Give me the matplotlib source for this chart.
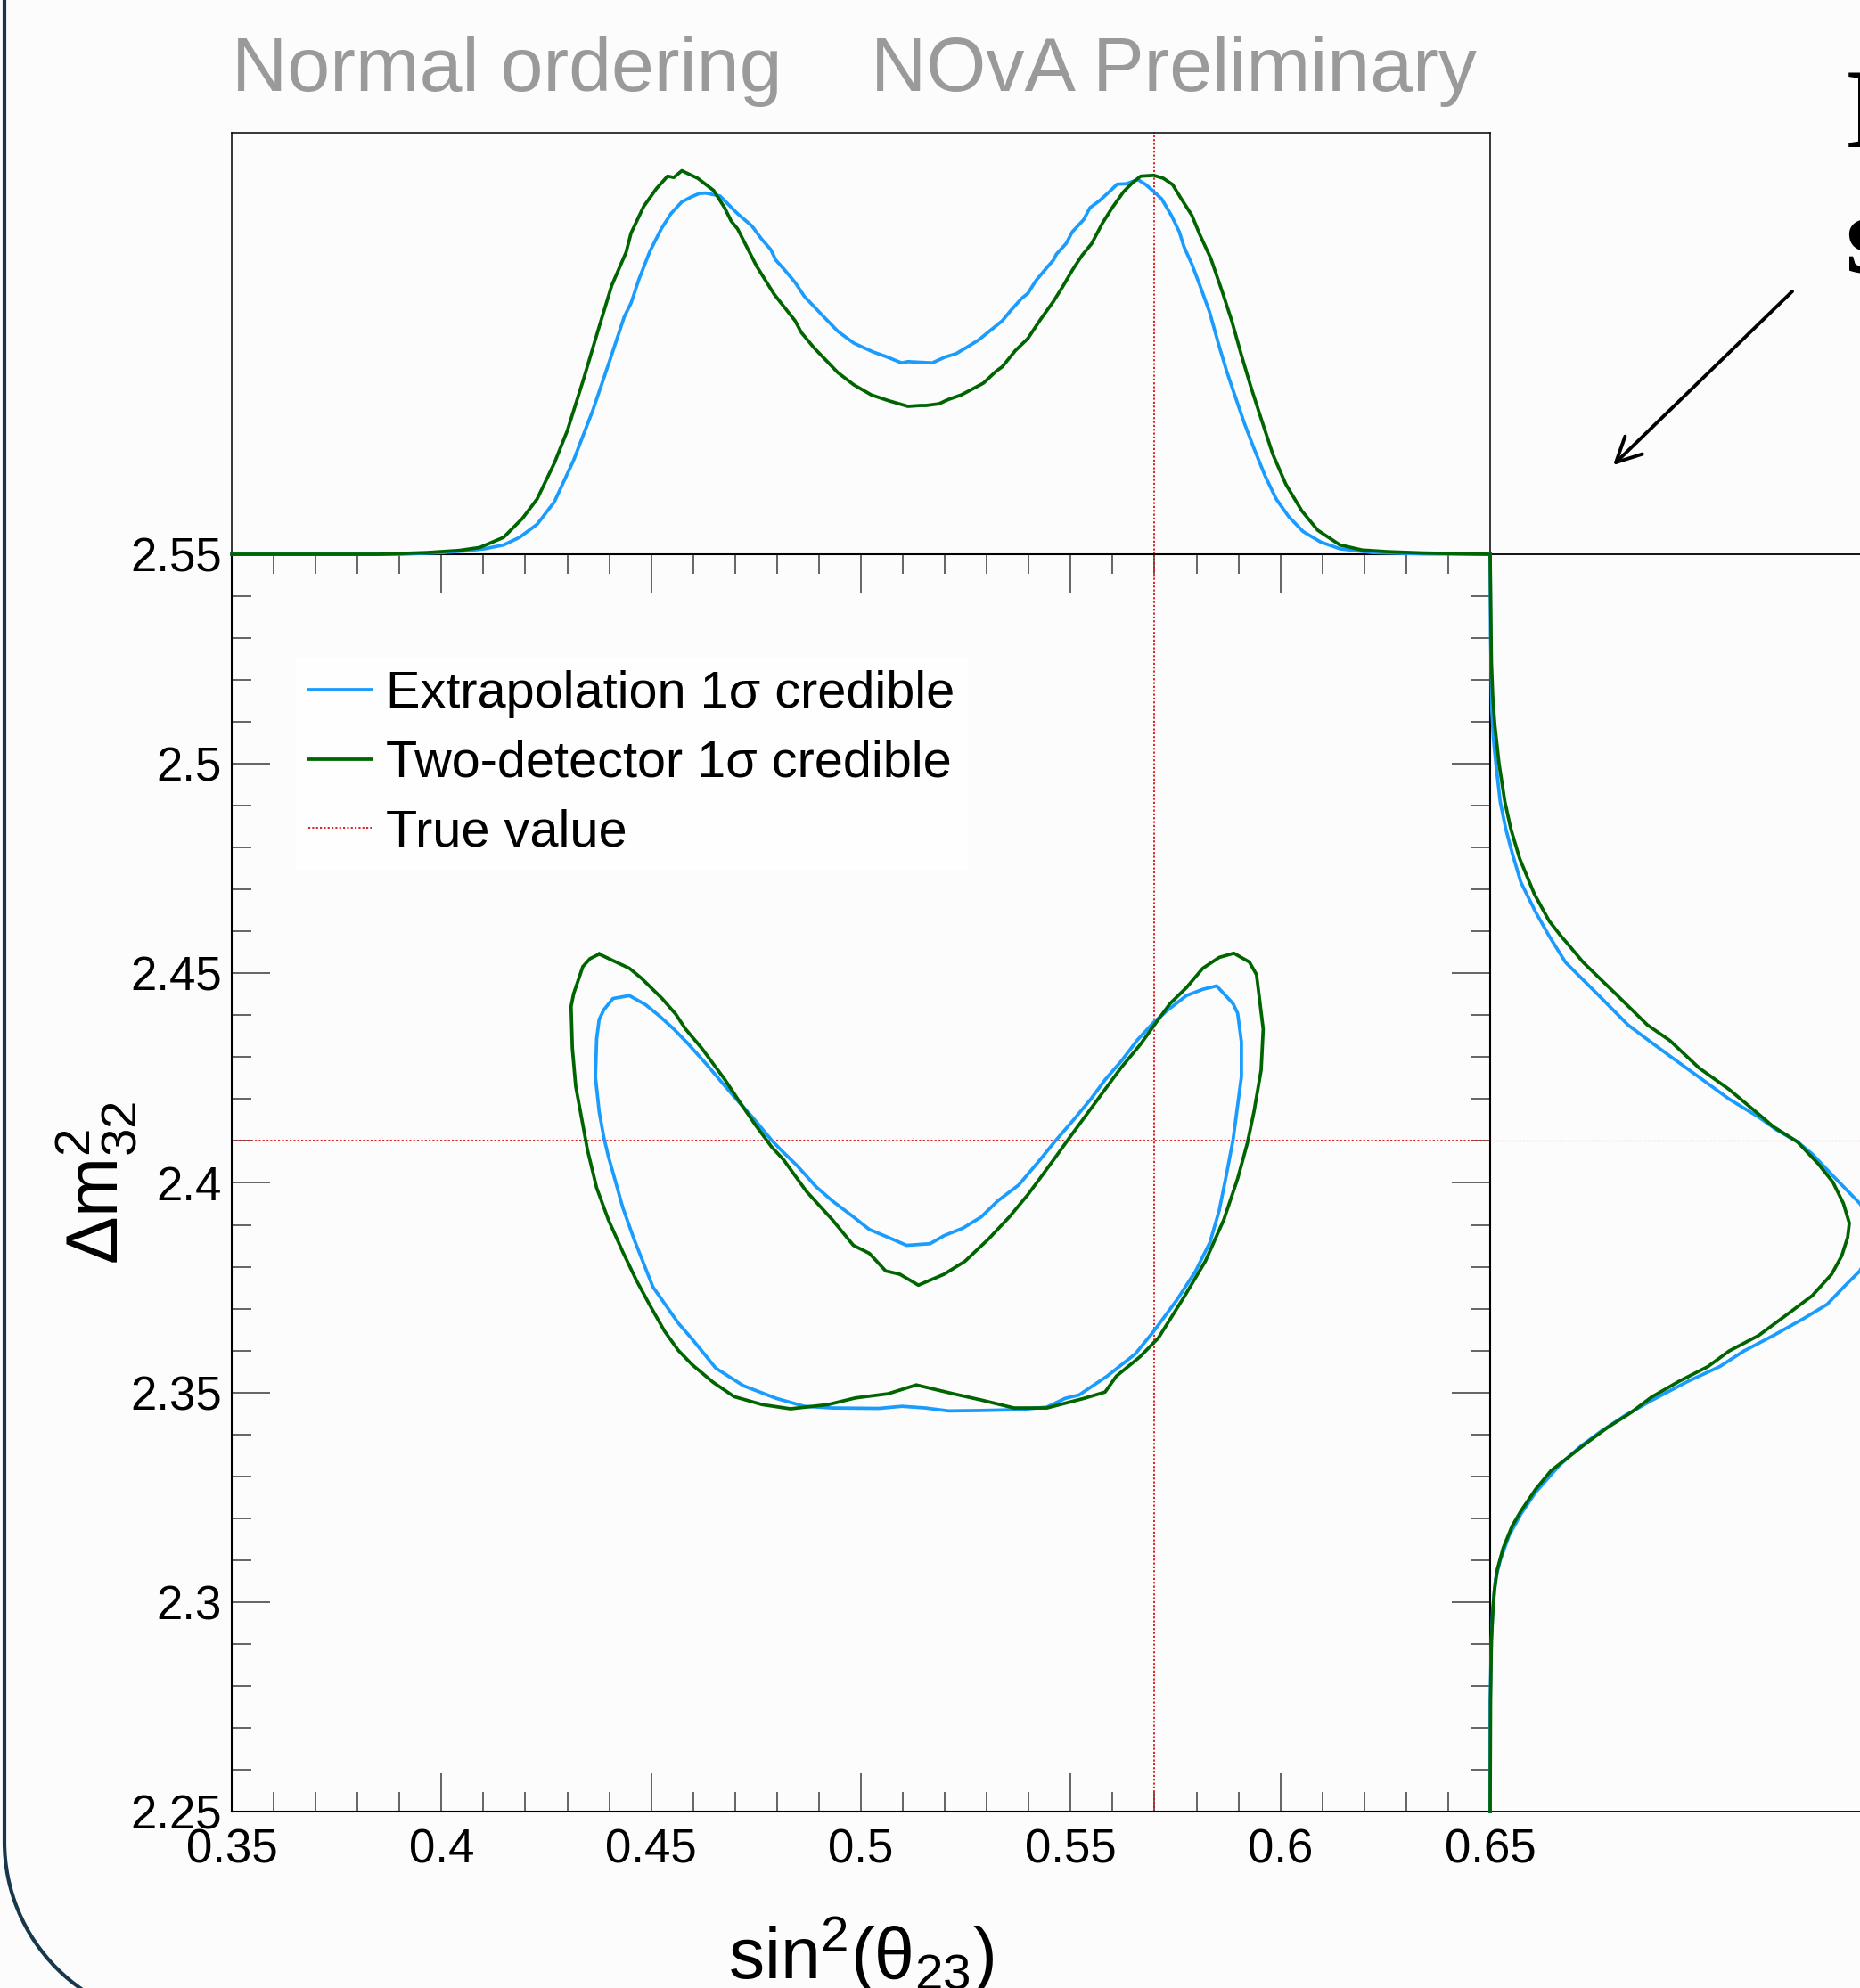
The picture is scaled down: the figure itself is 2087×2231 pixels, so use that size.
import matplotlib
matplotlib.use("Agg")
import matplotlib.pyplot as plt
from matplotlib.patches import Arc
from matplotlib.ticker import MultipleLocator, FuncFormatter

plt.rcParams["font.family"] = ["Liberation Sans", "DejaVu Sans"]
plt.rcParams["mathtext.fontset"] = "custom"
plt.rcParams["mathtext.rm"] = "Liberation Sans"
plt.rcParams["mathtext.it"] = "Liberation Sans:italic"
plt.rcParams["mathtext.default"] = "regular"

W, H = 2087, 2231
BG = "#fcfcfc"
BLUE = "#1a9cff"
GREEN = "#006400"
RED = "#dd1111"

TRUE_SIN2 = 0.57
TRUE_DM2 = 2.41

# 1D marginal of sin^2(theta23), relative units (panel height = 1)
TOP_SIN2_EXTRAP = [0.35, 0.39, 0.4004, 0.4057, 0.4103, 0.4148, 0.4186, 0.4228, 0.4269,
                   0.4315, 0.4361, 0.4402, 0.4436, 0.4452, 0.4471, 0.4497, 0.4524, 0.4547,
                   0.4573, 0.4596, 0.4615, 0.4630, 0.4664, 0.4706, 0.4740, 0.4763, 0.4785,
                   0.4797, 0.4816, 0.4843, 0.4865, 0.4907, 0.4945, 0.4983, 0.5029, 0.5060,
                   0.5097, 0.5112, 0.5150, 0.5170, 0.5201, 0.5227, 0.5254, 0.5280, 0.5311,
                   0.5337, 0.5356, 0.5383, 0.5398, 0.5417, 0.5444, 0.5459, 0.5466, 0.5489,
                   0.5504, 0.5531, 0.5546, 0.5569, 0.5592, 0.5611, 0.5633, 0.5660, 0.5679,
                   0.5702, 0.5717, 0.5740, 0.5759, 0.5770, 0.5789, 0.5808, 0.5831, 0.5853,
                   0.5872, 0.5891, 0.5914, 0.5937, 0.5963, 0.5990, 0.6020, 0.6054, 0.6096,
                   0.6142, 0.6218, 0.6339, 0.65]
TOP_PROB_EXTRAP = [0.0, 0.0, 0.004, 0.008, 0.013, 0.022, 0.040, 0.071, 0.124,
                   0.223, 0.342, 0.462, 0.564, 0.596, 0.653, 0.719, 0.772, 0.808,
                   0.836, 0.848, 0.856, 0.857, 0.850, 0.808, 0.779, 0.748, 0.723,
                   0.698, 0.677, 0.645, 0.612, 0.568, 0.529, 0.501, 0.480, 0.469,
                   0.454, 0.457, 0.455, 0.454, 0.468, 0.476, 0.492, 0.508, 0.533,
                   0.554, 0.577, 0.607, 0.619, 0.649, 0.681, 0.698, 0.712, 0.737,
                   0.765, 0.794, 0.822, 0.839, 0.860, 0.878, 0.879, 0.889, 0.877,
                   0.857, 0.843, 0.804, 0.765, 0.730, 0.688, 0.638, 0.575, 0.497,
                   0.434, 0.378, 0.311, 0.251, 0.187, 0.131, 0.089, 0.054, 0.029,
                   0.013, 0.004, 0.001, 0.0]

TOP_SIN2_TWODET = [0.35, 0.385, 0.3966, 0.4042, 0.4091, 0.4148, 0.4193, 0.4228, 0.4269,
                   0.4300, 0.4338, 0.4376, 0.4406, 0.4440, 0.4452, 0.4482, 0.4512, 0.4539,
                   0.4554, 0.4573, 0.4611, 0.4649, 0.4675, 0.4691, 0.4706, 0.4751, 0.4793,
                   0.4843, 0.4858, 0.4888, 0.4945, 0.4983, 0.5025, 0.5067, 0.5112, 0.5142,
                   0.5155, 0.5186, 0.5208, 0.5239, 0.5262, 0.5292, 0.5322, 0.5337, 0.5368,
                   0.5398, 0.5428, 0.5459, 0.5481, 0.5504, 0.5527, 0.5550, 0.5576, 0.5599,
                   0.5626, 0.5648, 0.5667, 0.5698, 0.5721, 0.5743, 0.5762, 0.5789, 0.5808,
                   0.5834, 0.5861, 0.5884, 0.5906, 0.5929, 0.5952, 0.5982, 0.6013, 0.6051,
                   0.6089, 0.6142, 0.6195, 0.6256, 0.6339, 0.65]
TOP_PROB_TWODET = [0.0, 0.0, 0.004, 0.009, 0.016, 0.040, 0.085, 0.131, 0.216,
                   0.293, 0.413, 0.540, 0.638, 0.716, 0.762, 0.825, 0.867, 0.897,
                   0.894, 0.910, 0.892, 0.863, 0.822, 0.790, 0.772, 0.684, 0.617,
                   0.554, 0.526, 0.490, 0.431, 0.402, 0.378, 0.364, 0.351, 0.353,
                   0.353, 0.357, 0.367, 0.378, 0.390, 0.406, 0.434, 0.445, 0.483,
                   0.512, 0.557, 0.600, 0.635, 0.674, 0.709, 0.737, 0.786, 0.822,
                   0.860, 0.882, 0.897, 0.899, 0.892, 0.877, 0.846, 0.804, 0.758,
                   0.702, 0.624, 0.554, 0.476, 0.399, 0.328, 0.237, 0.166, 0.103,
                   0.057, 0.022, 0.010, 0.006, 0.003, 0.0]

# 1D marginal of dm2_32, relative units (panel width = 1)
RIGHT_DM2_EXTRAP = [2.55, 2.5306, 2.5128, 2.5057, 2.4987, 2.4909, 2.4845, 2.4788, 2.4717,
                    2.4646, 2.4589, 2.4526, 2.4452, 2.4377, 2.4340, 2.4303, 2.4252, 2.4200,
                    2.4157, 2.4127, 2.4098, 2.4069, 2.4017, 2.3981, 2.3951, 2.388, 2.3790,
                    2.3754, 2.3710, 2.3676, 2.3636, 2.3599, 2.3562, 2.3526, 2.3481, 2.3445,
                    2.3408, 2.3371, 2.3327, 2.3262, 2.3210, 2.3159, 2.3100, 2.3056, 2.2983,
                    2.2909, 2.2763, 2.25]
RIGHT_PROB_EXTRAP = [0.0, 0.001, 0.004, 0.008, 0.015, 0.024, 0.037, 0.052, 0.073,
                     0.108, 0.140, 0.179, 0.253, 0.327, 0.376, 0.426, 0.496, 0.567,
                     0.637, 0.679, 0.729, 0.764, 0.813, 0.848, 0.877, 0.925, 0.877,
                     0.841, 0.799, 0.743, 0.672, 0.602, 0.545, 0.468, 0.383, 0.320,
                     0.264, 0.214, 0.165, 0.108, 0.073, 0.045, 0.024, 0.013, 0.006,
                     0.003, 0.0, 0.0]

RIGHT_DM2_TWODET = [2.55, 2.5242, 2.5164, 2.5093, 2.5001, 2.4909, 2.4845, 2.4774, 2.4689,
                    2.4625, 2.4589, 2.4568, 2.4526, 2.4452, 2.4377, 2.4340, 2.4274, 2.4223,
                    2.4164, 2.4134, 2.4098, 2.4046, 2.4002, 2.3951, 2.3904, 2.3870, 2.3826,
                    2.3782, 2.3731, 2.3694, 2.3636, 2.3599, 2.3562, 2.3526, 2.3489, 2.3452,
                    2.3416, 2.3379, 2.3335, 2.3313, 2.3269, 2.3217, 2.3181, 2.3129, 2.3078,
                    2.3027, 2.2968, 2.2909, 2.2763, 2.25]
RIGHT_PROB_TWODET = [0.0, 0.003, 0.006, 0.011, 0.021, 0.035, 0.049, 0.070, 0.105,
                     0.140, 0.168, 0.186, 0.221, 0.297, 0.373, 0.426, 0.496, 0.567,
                     0.637, 0.672, 0.729, 0.778, 0.813, 0.838, 0.852, 0.848, 0.834,
                     0.810, 0.764, 0.715, 0.637, 0.567, 0.517, 0.447, 0.383, 0.334,
                     0.278, 0.228, 0.172, 0.144, 0.108, 0.073, 0.052, 0.031, 0.017,
                     0.010, 0.006, 0.003, 0.001, 0.0]

# 1 sigma credible contours
CONT_SIN2_EXTRAP = [0.4448, 0.4409, 0.4387, 0.4376, 0.4370, 0.4367, 0.4376, 0.4387, 0.4398,
                    0.4415, 0.4432, 0.4459, 0.4504, 0.4565, 0.4598, 0.4654, 0.4720, 0.4798,
                    0.4865, 0.4932, 0.5043, 0.5098, 0.5154, 0.5209, 0.5287, 0.5376, 0.5443,
                    0.5487, 0.5520, 0.5587, 0.5654, 0.5698, 0.5754, 0.5798, 0.5832, 0.5854,
                    0.5871, 0.5887, 0.5898, 0.5907, 0.5907, 0.5898, 0.5887, 0.5848, 0.5815,
                    0.5776, 0.5732, 0.5698, 0.5659, 0.5621, 0.5582, 0.5548, 0.5504, 0.5465,
                    0.5421, 0.5376, 0.5326, 0.5287, 0.5243, 0.5198, 0.5165, 0.5109, 0.5065,
                    0.5020, 0.4982, 0.4932, 0.4893, 0.4848, 0.4809, 0.4787, 0.4743, 0.4709,
                    0.4670, 0.4631, 0.4587, 0.4554, 0.4520, 0.4487, 0.4448]
CONT_DM2_EXTRAP = [2.4447, 2.4440, 2.4413, 2.4390, 2.4345, 2.4253, 2.4170, 2.4109, 2.4063,
                   2.4003, 2.3942, 2.3866, 2.3752, 2.3665, 2.3627, 2.3558, 2.3516, 2.3486,
                   2.3467, 2.3463, 2.3462, 2.3467, 2.3463, 2.3456, 2.3457, 2.3459, 2.3465,
                   2.3486, 2.3494, 2.3539, 2.3592, 2.3646, 2.3722, 2.3790, 2.3858, 2.3934,
                   2.4018, 2.4102, 2.4185, 2.4253, 2.4337, 2.4405, 2.4428, 2.4470, 2.4462,
                   2.4447, 2.4413, 2.4383, 2.4341, 2.4291, 2.4246, 2.4200, 2.4147, 2.4102,
                   2.4048, 2.3995, 2.3957, 2.3919, 2.3892, 2.3874, 2.3855, 2.3851, 2.3870,
                   2.3889, 2.3919, 2.3957, 2.3991, 2.4041, 2.4079, 2.4102, 2.4155, 2.4193,
                   2.4238, 2.4284, 2.4333, 2.4367, 2.4398, 2.4425, 2.4447]

CONT_SIN2_TWODET = [0.4376, 0.4448, 0.4476, 0.4526, 0.4559, 0.4582, 0.4620, 0.4648, 0.4676,
                    0.4709, 0.4748, 0.4787, 0.4815, 0.4870, 0.4932, 0.4982, 0.5020, 0.5059,
                    0.5093, 0.5137, 0.5198, 0.5248, 0.5304, 0.5354, 0.5398, 0.5432, 0.5465,
                    0.5498, 0.5537, 0.5576, 0.5621, 0.5665, 0.5704, 0.5737, 0.5776, 0.5815,
                    0.5854, 0.5889, 0.5926, 0.5943, 0.5959, 0.5954, 0.5937, 0.5921, 0.5898,
                    0.5865, 0.5821, 0.5771, 0.5709, 0.5665, 0.5609, 0.5582, 0.5532, 0.5443,
                    0.5365, 0.5287, 0.5220, 0.5132, 0.5065, 0.4987, 0.4921, 0.4832, 0.4765,
                    0.4698, 0.4648, 0.4598, 0.4565, 0.4532, 0.4498, 0.4465, 0.4432, 0.4398,
                    0.4370, 0.4348, 0.4337, 0.4320, 0.4312, 0.4309, 0.4315, 0.4337, 0.4354,
                    0.4376]
CONT_DM2_TWODET = [2.4546, 2.4512, 2.4489, 2.4440, 2.4402, 2.4367, 2.4322, 2.4284, 2.4246,
                   2.4196, 2.4139, 2.4086, 2.4056, 2.3980, 2.3912, 2.3851, 2.3832, 2.3790,
                   2.3782, 2.3756, 2.3782, 2.3813, 2.3866, 2.3919, 2.3972, 2.4018, 2.4063,
                   2.4109, 2.4162, 2.4215, 2.4276, 2.4329, 2.4383, 2.4428, 2.4466, 2.4512,
                   2.4538, 2.4548, 2.4527, 2.4497, 2.4367, 2.4269, 2.4170, 2.4094, 2.4010,
                   2.3912, 2.3813, 2.3729, 2.3630, 2.3585, 2.3539, 2.3501, 2.3486, 2.3463,
                   2.3463, 2.3482, 2.3497, 2.3518, 2.3497, 2.3487, 2.3471, 2.3461, 2.3471,
                   2.3490, 2.3524, 2.3566, 2.3600, 2.3646, 2.3706, 2.3767, 2.3836, 2.3912,
                   2.3988, 2.4079, 2.4139, 2.4231, 2.4322, 2.4421, 2.4451, 2.4516, 2.4535,
                   2.4546]

LABEL_EXTRAP = "Extrapolation 1σ credible"
LABEL_TWODET = "Two-detector 1σ credible"
LABEL_TRUE = "True value"


def box(x0, y0, x1, y1):
    # pixel box (y down) -> figure fraction rect
    return [x0 / W, 1 - y1 / H, (x1 - x0) / W, (y1 - y0) / H]


fig = plt.figure(figsize=(W / 100, H / 100), dpi=100, facecolor=BG)

# slide decoration layer (pixel coordinates, y down)
deco = fig.add_axes([0, 0, 1, 1], zorder=-1)
deco.set_xlim(0, W)
deco.set_ylim(H, 0)
deco.axis("off")
SLIDE_EDGE = "#17384c"
deco.plot([5, 5], [-10, 2067], color=SLIDE_EDGE, lw=3.0, solid_capstyle="butt")
deco.add_patch(Arc((206, 2067), 402, 402, theta1=90, theta2=180, color=SLIDE_EDGE, lw=3.0))
deco.annotate("", xy=(1810, 522), xytext=(2011, 327),
              arrowprops=dict(arrowstyle="->", lw=2.8, color="black",
                              mutation_scale=50, shrinkA=0, shrinkB=0))
deco.text(2070, 165, "I", family="Liberation Serif", weight="bold", fontsize=92, va="baseline")
deco.text(2070, 306, "s", family="Liberation Serif", weight="bold", fontsize=92, va="baseline")

ax = fig.add_axes(box(260, 622, 1672, 2033))
ax_top = fig.add_axes(box(260, 149, 1672, 622))
ax_right = fig.add_axes(box(1672, 622, 2145, 2033))
for a in (ax, ax_top, ax_right):
    a.set_facecolor("none")

LW = 2.7

# main 2D panel
ax.plot(CONT_SIN2_EXTRAP, CONT_DM2_EXTRAP, color=BLUE, lw=LW, label=LABEL_EXTRAP, zorder=3)
ax.plot(CONT_SIN2_TWODET, CONT_DM2_TWODET, color=GREEN, lw=LW, label=LABEL_TWODET, zorder=3)
ax.axvline(TRUE_SIN2, color=RED, lw=1.3, ls=(0, (1.2, 1.2)), label=LABEL_TRUE, zorder=2)
ax.axhline(TRUE_DM2, color=RED, lw=1.3, ls=(0, (1.2, 1.2)), zorder=2)
ax.set_xlim(0.35, 0.65)
ax.set_ylim(2.25, 2.55)

fmt = FuncFormatter(lambda v, p: f"{v:g}")
ax.xaxis.set_major_locator(MultipleLocator(0.05))
ax.xaxis.set_minor_locator(MultipleLocator(0.01))
ax.yaxis.set_major_locator(MultipleLocator(0.05))
ax.yaxis.set_minor_locator(MultipleLocator(0.01))
ax.xaxis.set_major_formatter(fmt)
ax.yaxis.set_major_formatter(fmt)
ax.tick_params(which="both", direction="in", top=True, right=True, color="#3a3a3a",
               width=1.1, labelsize=38)
ax.tick_params(axis="x", which="both", pad=13)
ax.tick_params(axis="y", which="both", pad=8)
ax.tick_params(which="major", length=31)
ax.tick_params(which="minor", length=16)
for s in ax.spines.values():
    s.set_linewidth(1.5)

ax.set_xlabel(r"sin$^{2}$($\theta_{23}$)", fontsize=58, va="baseline")
ax.xaxis.set_label_coords(0.5, -0.1325)
ax.set_ylabel(r"$\Delta m^{2}_{32}$", fontsize=58)
ax.yaxis.set_label_coords(-0.074, 0.5)

leg = ax.legend(loc="upper left", bbox_to_anchor=(0.051, 0.918), fontsize=41.5,
                frameon=True, fancybox=False, handlelength=1.22, handletextpad=0.28,
                labelspacing=0.41, borderpad=0.25, borderaxespad=0)
leg.get_frame().set_facecolor("white")
leg.get_frame().set_edgecolor("none")

# top marginal
ax_top.plot(TOP_SIN2_EXTRAP, TOP_PROB_EXTRAP, color=BLUE, lw=LW, zorder=3, clip_on=False)
ax_top.plot(TOP_SIN2_TWODET, TOP_PROB_TWODET, color=GREEN, lw=LW, zorder=3, clip_on=False)
ax_top.axvline(TRUE_SIN2, color=RED, lw=1.3, ls=(0, (1.2, 1.2)))
ax_top.set_xlim(0.35, 0.65)
ax_top.set_ylim(0, 1)
ax_top.set_xticks([])
ax_top.set_yticks([])
for s in ax_top.spines.values():
    s.set_linewidth(1.1)

# right marginal
ax_right.plot(RIGHT_PROB_EXTRAP, RIGHT_DM2_EXTRAP, color=BLUE, lw=LW, zorder=3, clip_on=False)
ax_right.plot(RIGHT_PROB_TWODET, RIGHT_DM2_TWODET, color=GREEN, lw=LW, zorder=3, clip_on=False)
ax_right.axhline(TRUE_DM2, color=RED, lw=0.8, ls=(0, (1.5, 1.5)))
ax_right.set_xlim(0, 1)
ax_right.set_ylim(2.25, 2.55)
ax_right.set_xticks([])
ax_right.set_yticks([])
for s in ax_right.spines.values():
    s.set_linewidth(1.3)

# header texts
fig.text(260 / W, 1 - 102 / H, "Normal ordering", fontsize=62, color="#9a9a9a", va="baseline")
fig.text(977 / W, 1 - 102 / H, "NOvA Preliminary", fontsize=62, color="#9a9a9a", va="baseline")

fig.savefig("out.png", dpi=100, facecolor=BG)
